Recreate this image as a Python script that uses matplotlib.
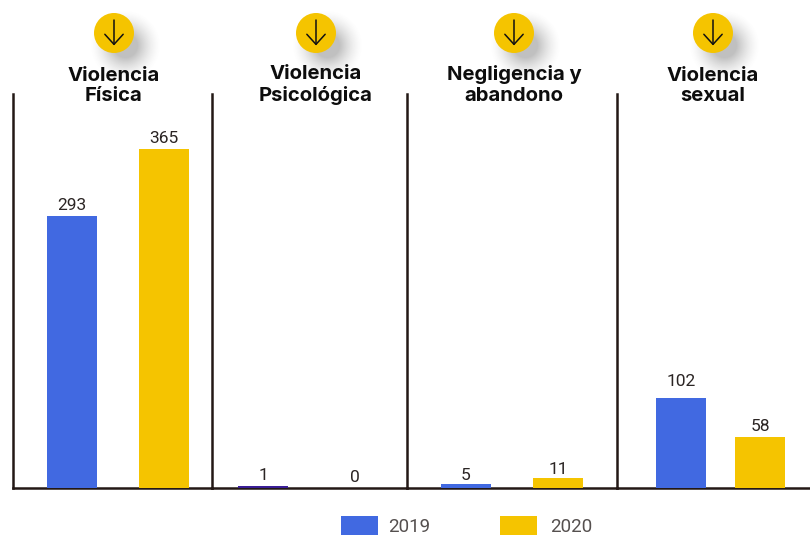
import numpy as np
import matplotlib
matplotlib.use("Agg")
import matplotlib.pyplot as plt
from matplotlib.patches import Circle, Rectangle

titles = ["Violencia\nFísica", "Violencia\nPsicológica", "Negligencia y\nabandono", "Violencia\nsexual"]
years = ["2019", "2020"]
v2019 = [293, 1, 5, 102]
v2020 = [365, 0, 11, 58]

W, H = 810, 535
BLUE, YEL, DARK = "#4169E1", "#F5C400", "#231815"
edges = [13, 212, 407, 617, 810]
centers = [(72, 164), (263, 355), (466, 558), (681, 760)]
title_x = [114, 316, 514, 713]
title_y = [86, 85, 85, 86]
px_per_unit = [0.928, 1.7, 0.9, 0.88]
label_offset = [2.2, 2.2, 0.6, 2.2]
base, top = 488, 94
circ_x = [114, 316, 514, 713]

fig = plt.figure(figsize=(W/100, H/100), dpi=100)
bg = fig.add_axes([0, 0, 1, 1])
bg.set_xlim(0, W); bg.set_ylim(H, 0); bg.axis("off")

# soft shadows behind the badges
yy, xx = np.mgrid[0:H, 0:W]
shadow = np.zeros((H, W))
for cx in circ_x:
    d = np.hypot(xx - (cx + 11), yy - (33 + 12))
    shadow = np.maximum(shadow, 0.38*np.clip((36 - d)/24, 0, 1)**1.6)
rgba = np.zeros((H, W, 4)); rgba[..., :3] = 0.35; rgba[..., 3] = shadow
bg.imshow(rgba, extent=(0, W, H, 0), aspect="auto", interpolation="bilinear", zorder=0)
bg.set_xlim(0, W); bg.set_ylim(H, 0)

for cx in circ_x:
    bg.add_patch(Circle((cx, 33), 20, fc=YEL, ec="none", zorder=2))
    bg.annotate("", xy=(cx, 45.5), xytext=(cx, 20), zorder=3,
                arrowprops=dict(arrowstyle="->,head_length=0.33,head_width=0.3", mutation_scale=22,
                                lw=1.1, color="#111111", shrinkA=0, shrinkB=0))

for i, t in enumerate(titles):
    bg.text(title_x[i], title_y[i], t, ha="center", va="center", family="Inter", weight="bold",
            fontsize=14.6, color="#0d0d0d", linespacing=1.2, zorder=4)

for i in range(4):
    l, r = edges[i], edges[i+1]
    ax = fig.add_axes([l/W, 1 - base/H, (r - l)/W, (base - top)/H])
    ax.set_xlim(l, r); ax.set_ylim(0, (base - top)/px_per_unit[i])
    ax.patch.set_alpha(0)
    for s in ("top", "right"):
        ax.spines[s].set_visible(False)
    ax.spines["left"].set_color(DARK); ax.spines["left"].set_linewidth(1.8)
    ax.spines["bottom"].set_color(DARK); ax.spines["bottom"].set_linewidth(1.8)
    ax.set_xticks([]); ax.set_yticks([])
    vals = (v2019[i], v2020[i])
    cols = (BLUE if vals[0] > 1 else "#3A1E96", YEL)
    for c, v, col in zip(centers[i], vals, cols):
        ax.bar(c, v, width=50, color=col, linewidth=0, zorder=3, clip_on=False)
        off = 6.5 if i == 3 and v > 100 else label_offset[i]
        ax.annotate(str(v), (c, v), xytext=(0, off), textcoords="offset points", ha="center", va="bottom",
                    family="Roboto", fontsize=12.5, color="#2b2524")

bg.add_patch(Rectangle((341, 516), 37, 19, fc=BLUE, ec="none"))
bg.add_patch(Rectangle((500, 516), 37, 19, fc=YEL, ec="none"))
bg.text(388.5, 526.5, years[0], family="Roboto", fontsize=13.5, color="#55504f", va="center")
bg.text(550.5, 526.5, years[1], family="Roboto", fontsize=13.5, color="#55504f", va="center")

fig.savefig("out.png", dpi=100)
